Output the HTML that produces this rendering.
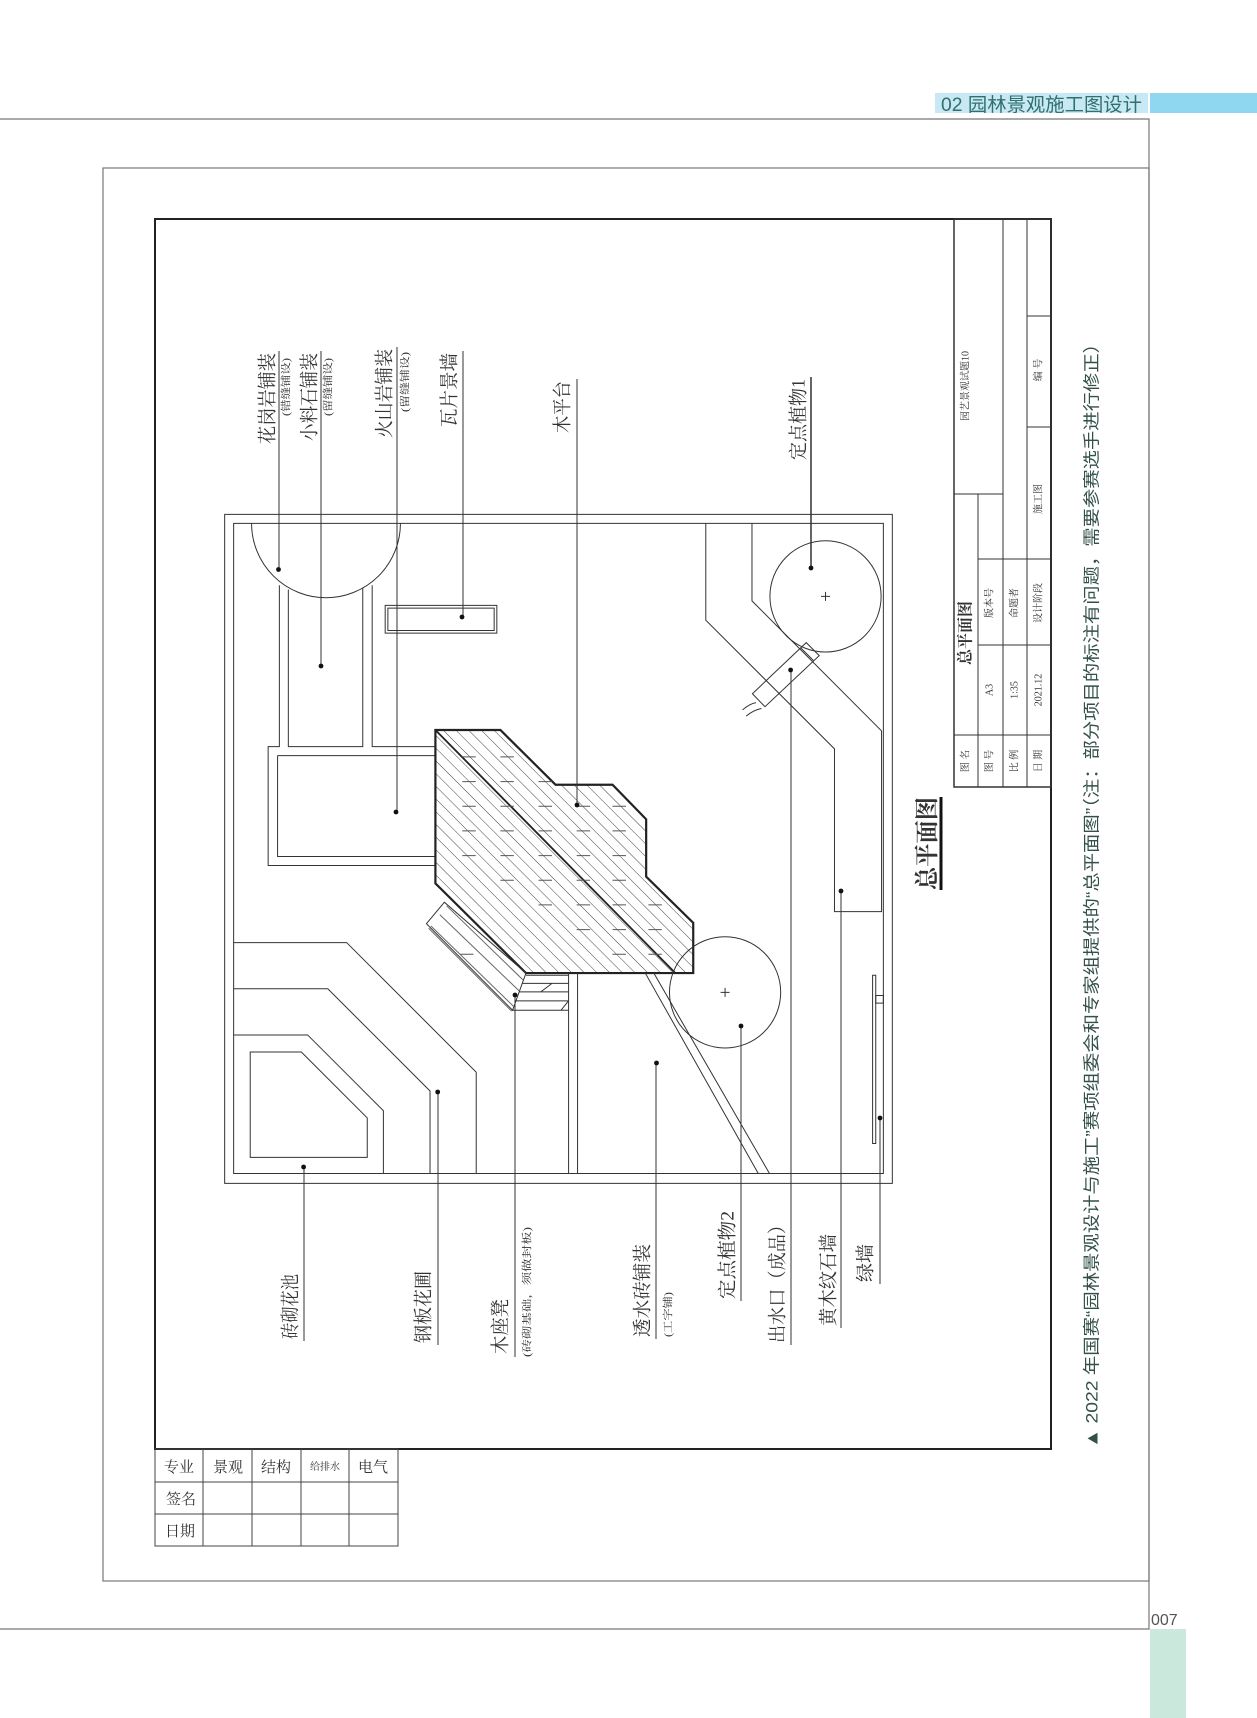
<!DOCTYPE html>
<html><head><meta charset="utf-8"><style>
html,body{margin:0;padding:0;background:#fff}
svg{display:block}
text{font-family:"Liberation Serif","Noto Serif CJK SC","Noto Sans CJK SC",serif;fill:#333}
.s{font-family:"Liberation Sans","Noto Sans CJK SC",sans-serif}
</style></head><body>
<svg width="1257" height="1718" viewBox="0 0 1257 1718" xmlns="http://www.w3.org/2000/svg">
<defs>
<pattern id="h" patternUnits="userSpaceOnUse" width="20" height="20" patternTransform="rotate(-45)">
<line x1="0" y1="0" x2="0" y2="20" stroke="#444" stroke-width="2.2"/>
</pattern>
<clipPath id="dk"><polygon points="525,513 670,513 793,635 920,635 995,712 995,840 1100,943 1100,1055 727,1055 525,855"/></clipPath>
</defs>
<!-- header -->
<rect x="935" y="93" width="213" height="20" fill="#c8e8f4"/>
<rect x="1150" y="93" width="107" height="20" fill="#8fd6f0"/>
<text x="941" y="111" class="s" textLength="201" lengthAdjust="spacingAndGlyphs" style="font-size:19px;fill:#2f716c">02 园林景观施工图设计</text>
<!-- page lines -->
<polyline points="0,119 1149,119 1149,1629 0,1629" fill="none" stroke="#777" stroke-width="1.2"/>
<rect x="1150" y="1629" width="36" height="89" fill="#cbe8dd"/>
<text x="1151" y="1625" class="s" style="font-size:16px;fill:#555">007</text>
<rect x="103" y="168" width="1046" height="1413" fill="none" stroke="#777" stroke-width="1.2"/>
<rect x="155" y="219" width="896" height="1230" fill="none" stroke="#222" stroke-width="2"/>
<!-- title block -->
<g stroke="#333" stroke-width="1" fill="none">
<rect x="954" y="219" width="97" height="568" stroke-width="1.5"/>
<line x1="1003" y1="219" x2="1003" y2="787"/>
<line x1="1027" y1="219" x2="1027" y2="787"/>
<line x1="978" y1="494" x2="978" y2="787"/>
<line x1="954" y1="494" x2="1003" y2="494"/>
<line x1="978" y1="559" x2="1051" y2="559"/>
<line x1="978" y1="645" x2="1051" y2="645"/>
<line x1="954" y1="735" x2="1051" y2="735"/>
<line x1="1027" y1="427" x2="1051" y2="427"/>
<line x1="1027" y1="316" x2="1051" y2="316"/>
</g>
<g style="font-size:10px" text-anchor="middle" dominant-baseline="central">
<text transform="translate(966,386) rotate(-90)">园艺景观试题10</text>
<text transform="translate(966,633) rotate(-90)" style="font-size:16px;font-weight:bold">总平面图</text>
<text transform="translate(966,761) rotate(-90)">图 名</text>
<text transform="translate(990,603) rotate(-90)">版本号</text>
<text transform="translate(990,690) rotate(-90)">A3</text>
<text transform="translate(990,761) rotate(-90)">图 号</text>
<text transform="translate(1015,603) rotate(-90)">命题者</text>
<text transform="translate(1015,690) rotate(-90)">1:35</text>
<text transform="translate(1015,761) rotate(-90)">比 例</text>
<text transform="translate(1039,370) rotate(-90)">编 号</text>
<text transform="translate(1039,499) rotate(-90)">施工图</text>
<text transform="translate(1039,603) rotate(-90)">设计阶段</text>
<text transform="translate(1039,690) rotate(-90)">2021.12</text>
<text transform="translate(1039,761) rotate(-90)">日 期</text>
</g>
<!-- main title -->
<text transform="translate(928,890) rotate(-90)" dominant-baseline="central" textLength="93" lengthAdjust="spacingAndGlyphs" style="font-size:24px;font-weight:bold">总平面图</text>
<line x1="941" y1="797" x2="941" y2="890" stroke="#111" stroke-width="3"/>
<!-- caption -->
<text transform="translate(1092,1448) rotate(-90)" class="s" dominant-baseline="central" textLength="1114" lengthAdjust="spacingAndGlyphs" style="font-size:17px;fill:#34504b">▲ 2022 年国赛“园林景观设计与施工”赛项组委会和专家组提供的“总平面图”（注：部分项目的标注有问题，需要参赛选手进行修正）</text>
<!-- bottom-left table -->
<g stroke="#444" stroke-width="1" fill="none">
<rect x="155" y="1449" width="243" height="97"/>
<line x1="155" y1="1482" x2="398" y2="1482"/>
<line x1="155" y1="1514" x2="398" y2="1514"/>
<line x1="203" y1="1449" x2="203" y2="1546"/>
<line x1="252" y1="1449" x2="252" y2="1546"/>
<line x1="301" y1="1449" x2="301" y2="1546"/>
<line x1="349" y1="1449" x2="349" y2="1546"/>
</g>
<g style="font-size:15px" text-anchor="middle">
<text x="179" y="1472">专业</text><text x="228" y="1472">景观</text><text x="276" y="1472">结构</text>
<text x="325" y="1470" style="font-size:10px">给排水</text><text x="373" y="1472">电气</text>
<text x="181" y="1504">签名</text><text x="180" y="1536">日期</text>
</g>
<!-- plan -->
<g transform="translate(200,500) scale(0.4484)" fill="none" stroke="#333" stroke-width="1" >
<rect x="55" y="32" width="1489" height="1492" vector-effect="non-scaling-stroke"/>
<rect x="75" y="52" width="1449" height="1450" vector-effect="non-scaling-stroke"/>
<path d="M115,52 A166,166 0 0 0 447,52" vector-effect="non-scaling-stroke"/>
<path d="M177,190 V550 H152 V815 H525 M197,200 V550 H363 V195 M384,190 V550 H525 M173,570 H525 M173,570 V795 H525" vector-effect="non-scaling-stroke"/>
<rect x="413" y="235" width="249" height="62" vector-effect="non-scaling-stroke"/>
<rect x="419" y="241" width="237" height="50" vector-effect="non-scaling-stroke"/>
<rect x="500" y="500" width="620" height="570" fill="url(#h)" stroke="none" clip-path="url(#dk)"/>
<polygon points="525,513 670,513 793,635 920,635 995,712 995,840 1100,943 1100,1055 727,1055 525,855" stroke="#222" stroke-width="2.2" vector-effect="non-scaling-stroke"/>
<line x1="525" y1="513" x2="1060" y2="1055" stroke="#222" stroke-width="1.8" vector-effect="non-scaling-stroke"/>
<path stroke="#555" d="M585,573h30 M670,573h30 M585,628h30 M670,628h30 M755,628h30 M585,683h30 M670,683h30 M755,683h30 M840,683h30 M920,683h30 M585,738h30 M670,738h30 M755,738h30 M840,738h30 M920,738h30 M585,793h30 M670,793h30 M755,793h30 M840,793h30 M920,793h30 M670,848h30 M755,848h30 M840,848h30 M920,848h30 M755,903h30 M840,903h30 M920,903h30 M1000,903h30 M840,958h30 M920,958h30 M1000,958h30 M920,1013h30 M1000,1013h30 M580,1013h30" vector-effect="non-scaling-stroke"/>
<polygon points="505,945 545,897 727,1055 697,1138" vector-effect="non-scaling-stroke"/>
<path d="M515,950 L700,1130 M535,925 L712,1095 M550,905 L720,1070 M510,955 L695,1140" stroke="#666" vector-effect="non-scaling-stroke"/>
<path d="M697,1138 H822 M727,1060 H822 M718,1078 H822 M712,1097 H822 M705,1117 H822 M760,1097 L785,1078 M805,1138 L822,1117" vector-effect="non-scaling-stroke"/>
<path d="M822,1055 V1502 M842,1055 V1502" vector-effect="non-scaling-stroke"/>
<path d="M75,987 H327 L616,1276 V1502 M75,1090 H285 L513,1318 V1502 M75,1193 H240 L409,1362 V1502" vector-effect="non-scaling-stroke"/>
<polygon points="112,1231 226,1231 373,1378 373,1466 112,1466" vector-effect="non-scaling-stroke"/>
<path d="M1128,52 V268 L1415,555 V918 H1520 V515 L1231,225 V52" vector-effect="non-scaling-stroke"/>
<circle cx="1395" cy="215" r="124" vector-effect="non-scaling-stroke"/>
<path d="M1385,215h20 M1395,205v20" vector-effect="non-scaling-stroke"/>
<polygon points="1232,432 1352,318 1381,347 1260,461" vector-effect="non-scaling-stroke"/>
<path d="M1340,330 L1368,358 M1210,468 Q1225,455 1240,452 M1218,482 Q1235,468 1252,465" vector-effect="non-scaling-stroke"/>
<circle cx="1171" cy="1098" r="124" vector-effect="non-scaling-stroke"/>
<path d="M1161,1098h20 M1171,1088v20" vector-effect="non-scaling-stroke"/>
<path d="M993,1055 L1245,1502 M1012,1055 L1270,1502" vector-effect="non-scaling-stroke"/>
<rect x="1500" y="1060" width="7" height="375" vector-effect="non-scaling-stroke"/>
<rect x="1507" y="1105" width="17" height="17" vector-effect="non-scaling-stroke"/>
</g>
<!-- leaders -->
<g stroke="#333" stroke-width="1">
<line x1="279" y1="351" x2="279" y2="570"/>
<line x1="321" y1="351" x2="321" y2="666"/>
<line x1="397" y1="347" x2="397" y2="812"/>
<line x1="463" y1="351" x2="463" y2="617"/>
<line x1="577" y1="379" x2="577" y2="805"/>
<line x1="811" y1="377" x2="811" y2="568" stroke-width="1.5"/>
<line x1="304" y1="1167" x2="304" y2="1341"/>
<line x1="438" y1="1092" x2="438" y2="1345"/>
<line x1="515" y1="995" x2="515" y2="1357"/>
<line x1="656" y1="1063" x2="656" y2="1339"/>
<line x1="741" y1="1026" x2="741" y2="1301"/>
<line x1="791" y1="670" x2="791" y2="1345"/>
<line x1="841" y1="891" x2="841" y2="1328"/>
<line x1="880" y1="1118" x2="880" y2="1284"/>
</g>
<g fill="#111">
<circle cx="278.5" cy="569.5" r="2.4"/><circle cx="321" cy="666" r="2.4"/><circle cx="396" cy="812" r="2.4"/>
<circle cx="462" cy="617" r="2.4"/><circle cx="577" cy="805" r="2.4"/><circle cx="811" cy="568" r="2.4"/>
<circle cx="790.6" cy="670" r="2.4"/><circle cx="841" cy="891" r="2.4"/><circle cx="741" cy="1026" r="2.4"/>
<circle cx="656.5" cy="1063" r="2.4"/><circle cx="515" cy="995" r="2.4"/><circle cx="437.7" cy="1092" r="2.4"/>
<circle cx="303.6" cy="1167" r="2.4"/><circle cx="880" cy="1118" r="2.4"/>
</g>
<!-- labels -->
<g dominant-baseline="central" style="font-size:19px">
<text transform="translate(268,444) rotate(-90)" textLength="91" lengthAdjust="spacingAndGlyphs">花岗岩铺装</text>
<text transform="translate(287,416) rotate(-90)" textLength="58" lengthAdjust="spacingAndGlyphs" style="font-size:10px">(错缝铺设)</text>
<text transform="translate(310,441) rotate(-90)" textLength="88" lengthAdjust="spacingAndGlyphs">小料石铺装</text>
<text transform="translate(329,416) rotate(-90)" textLength="58" lengthAdjust="spacingAndGlyphs" style="font-size:10px">(留缝铺设)</text>
<text transform="translate(385,438) rotate(-90)" textLength="89" lengthAdjust="spacingAndGlyphs">火山岩铺装</text>
<text transform="translate(406,412) rotate(-90)" textLength="60" lengthAdjust="spacingAndGlyphs" style="font-size:10px">(留缝铺设)</text>
<text transform="translate(450,427) rotate(-90)" textLength="74" lengthAdjust="spacingAndGlyphs">瓦片景墙</text>
<text transform="translate(563,433) rotate(-90)" textLength="52" lengthAdjust="spacingAndGlyphs">木平台</text>
<text transform="translate(799,460) rotate(-90)" textLength="81" lengthAdjust="spacingAndGlyphs">定点植物1</text>
<text transform="translate(291,1339) rotate(-90)" textLength="65" lengthAdjust="spacingAndGlyphs">砖砌花池</text>
<text transform="translate(424,1343) rotate(-90)" textLength="72" lengthAdjust="spacingAndGlyphs">钢板花圃</text>
<text transform="translate(501,1354) rotate(-90)" textLength="55" lengthAdjust="spacingAndGlyphs">木座凳</text>
<text transform="translate(528,1357) rotate(-90)" textLength="130" lengthAdjust="spacingAndGlyphs" style="font-size:10px">(砖砌基础，须做封板)</text>
<text transform="translate(643,1337) rotate(-90)" textLength="93" lengthAdjust="spacingAndGlyphs">透水砖铺装</text>
<text transform="translate(669,1337) rotate(-90)" textLength="45" lengthAdjust="spacingAndGlyphs" style="font-size:10px">(工字铺)</text>
<text transform="translate(728,1299) rotate(-90)" textLength="88" lengthAdjust="spacingAndGlyphs">定点植物2</text>
<text transform="translate(778,1343) rotate(-90)" textLength="127" lengthAdjust="spacingAndGlyphs">出水口（成品）</text>
<text transform="translate(829,1326) rotate(-90)" textLength="92" lengthAdjust="spacingAndGlyphs">黄木纹石墙</text>
<text transform="translate(866,1282) rotate(-90)" textLength="38" lengthAdjust="spacingAndGlyphs">绿墙</text>
</g>
</svg>
</body></html>
